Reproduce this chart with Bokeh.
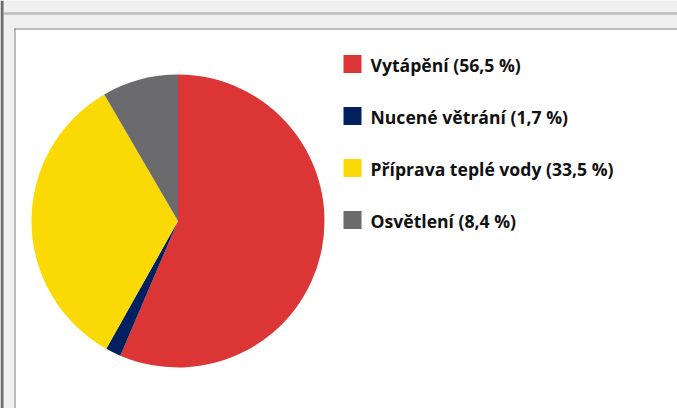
from bokeh.plotting import figure
from bokeh.models import ColumnDataSource, Range1d
from bokeh.core.properties import value
from bokeh.embed import file_html
from bokeh.resources import INLINE
import math

# ---- data ----
categories = ["Vytápění", "Nucené větrání", "Příprava teplé vody", "Osvětlení"]
shares = [56.5, 1.7, 33.5, 8.4]
colors = ["#db3535", "#002060", "#fbd905", "#6b6b6d"]
labels = ["Vytápění (56,5 %)", "Nucené větrání (1,7 %)",
          "Příprava teplé vody (33,5 %)", "Osvětlení (8,4 %)"]

W, H = 677, 408
p = figure(width=W, height=H, output_backend="svg", toolbar_location=None,
           x_range=Range1d(0, W), y_range=Range1d(0, H), min_border=0,
           background_fill_color="#f0f0f0", border_fill_color="#f0f0f0",
           outline_line_color=None)
p.axis.visible = False
p.grid.visible = False

def Y(py):
    return H - py

# window frame
p.quad(left=[0], right=[3], bottom=[0], top=[H], fill_color="#6c6c6c", line_color=None)
p.quad(left=[3], right=[W], bottom=[Y(14)], top=[Y(12)], fill_color="#a3a3a3", line_color=None)
p.quad(left=[3], right=[W], bottom=[Y(13.5)], top=[Y(13)], fill_color="#d6d6d6", line_color=None)
# white chart area
p.quad(left=[14], right=[W + 5], bottom=[-5], top=[Y(28)], fill_color="#ffffff", line_color=None)
p.quad(left=[14], right=[W + 5], bottom=[Y(29)], top=[Y(28)], fill_color="#7a7a7a", line_color=None)
p.quad(left=[14], right=[15], bottom=[-5], top=[Y(28)], fill_color="#7a7a7a", line_color=None)

# pie
total = sum(shares)
starts, ends = [], []
cum = 0.0
for s in shares:
    starts.append(math.pi / 2 - 2 * math.pi * cum / total)
    cum += s
    ends.append(math.pi / 2 - 2 * math.pi * cum / total)
src = ColumnDataSource(dict(start=starts, end=ends, color=colors, cat=categories))
p.wedge(x=177.5, y=Y(220.5), radius=146.5, start_angle="start", end_angle="end",
        direction="clock", fill_color="color", line_color=None, source=src)

# legend
tops = [54.5 + 52 * i for i in range(len(labels))]
lsrc = ColumnDataSource(dict(
    x=[352] * len(labels), y=[Y(t + 9) for t in tops], color=colors,
    tx=[370] * len(labels), ty=[Y(t + 10) for t in tops], label=labels))
p.rect(x="x", y="y", width=18, height=18, fill_color="color", line_color=None, source=lsrc)
p.text(x="tx", y="ty", text="label", text_font=value("Open Sans"), text_font_style="bold",
       text_font_size="17.6px", text_color="#111111", text_baseline="middle",
       source=lsrc)

open("out.html", "w").write(file_html(p, INLINE))
